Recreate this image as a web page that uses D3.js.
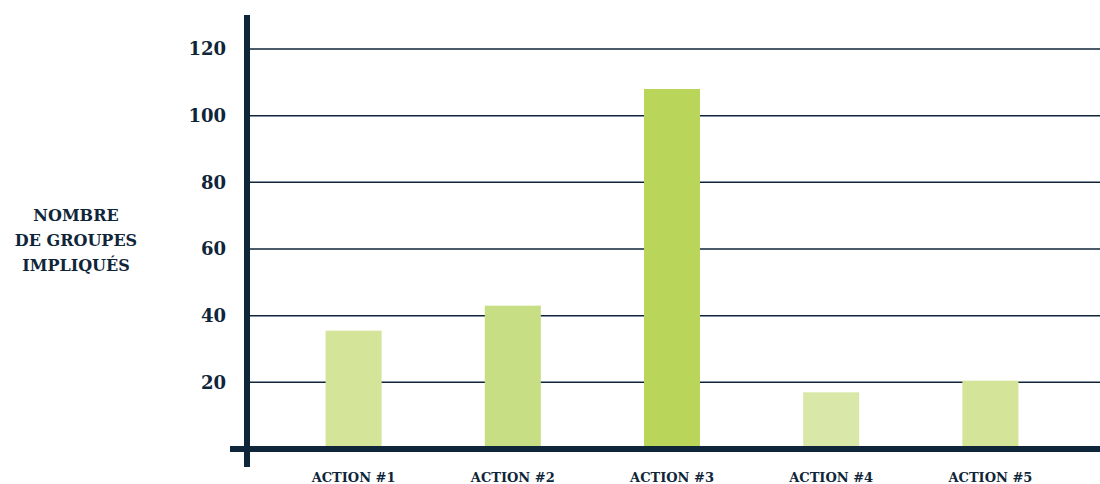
<!DOCTYPE html>
<html lang="fr">
<head>
<meta charset="UTF-8">
<title>Nombre de groupes impliqués</title>
<style>
  body { margin: 0; background: #fff; }
  text { font-family: "DejaVu Serif", serif; font-weight: bold; fill: #0f2539; }
</style>
</head>
<body>
<script src="https://d3js.org/d3.v7.min.js"></script>
<script>
  var categories = ["ACTION #1", "ACTION #2", "ACTION #3", "ACTION #4", "ACTION #5"];
  var values = [35.5, 43, 108, 17, 20.5];
  var barColors = ["#d4e499", "#c7de85", "#b9d55a", "#d9e8a8", "#d4e499"];
  var yTicks = [20, 40, 60, 80, 100, 120];
  var yLabel = ["NOMBRE", "DE GROUPES", "IMPLIQUÉS"];

  var width = 1100, height = 484;
  var navy = "#0f2539";

  var svg = d3.select("body").append("svg")
    .attr("width", width).attr("height", height);

  var y = d3.scaleLinear().domain([0, 120]).range([449, 49]);
  var x = d3.scaleBand().domain(categories).range([274, 1070]).paddingInner(0.648).paddingOuter(0.324);

  // grid lines
  svg.append("g").selectAll("line").data(yTicks).enter().append("line")
    .attr("x1", 247).attr("x2", 1100)
    .attr("y1", function(d) { return y(d); }).attr("y2", function(d) { return y(d); })
    .attr("stroke", navy).attr("stroke-width", 1.5);

  // bars
  svg.append("g").selectAll("rect").data(values).enter().append("rect")
    .attr("x", function(d, i) { return x(categories[i]); })
    .attr("width", x.bandwidth())
    .attr("y", function(d) { return y(d); })
    .attr("height", function(d) { return y(0) - y(d); })
    .attr("fill", function(d, i) { return barColors[i]; });

  // axes
  svg.append("line").attr("x1", 230).attr("x2", 1100).attr("y1", y(0)).attr("y2", y(0))
    .attr("stroke", navy).attr("stroke-width", 6);
  svg.append("line").attr("x1", 247).attr("x2", 247).attr("y1", 15).attr("y2", 467)
    .attr("stroke", navy).attr("stroke-width", 6);

  // y tick labels
  svg.append("g").selectAll("text").data(yTicks).enter().append("text")
    .attr("x", 226).attr("y", function(d) { return y(d); })
    .attr("dy", "0.35em").attr("text-anchor", "end")
    .style("font-size", "18px")
    .text(function(d) { return d; });

  // x labels
  svg.append("g").selectAll("text").data(categories).enter().append("text")
    .attr("x", function(d) { return x(d) + x.bandwidth() / 2; })
    .attr("y", 482).attr("text-anchor", "middle")
    .style("font-size", "13px")
    .text(function(d) { return d; });

  // y title
  svg.append("g").selectAll("text").data(yLabel).enter().append("text")
    .attr("x", 76).attr("y", function(d, i) { return 221 + i * 25; })
    .attr("text-anchor", "middle")
    .style("font-size", "16px")
    .text(function(d) { return d; });
</script>
</body>
</html>
